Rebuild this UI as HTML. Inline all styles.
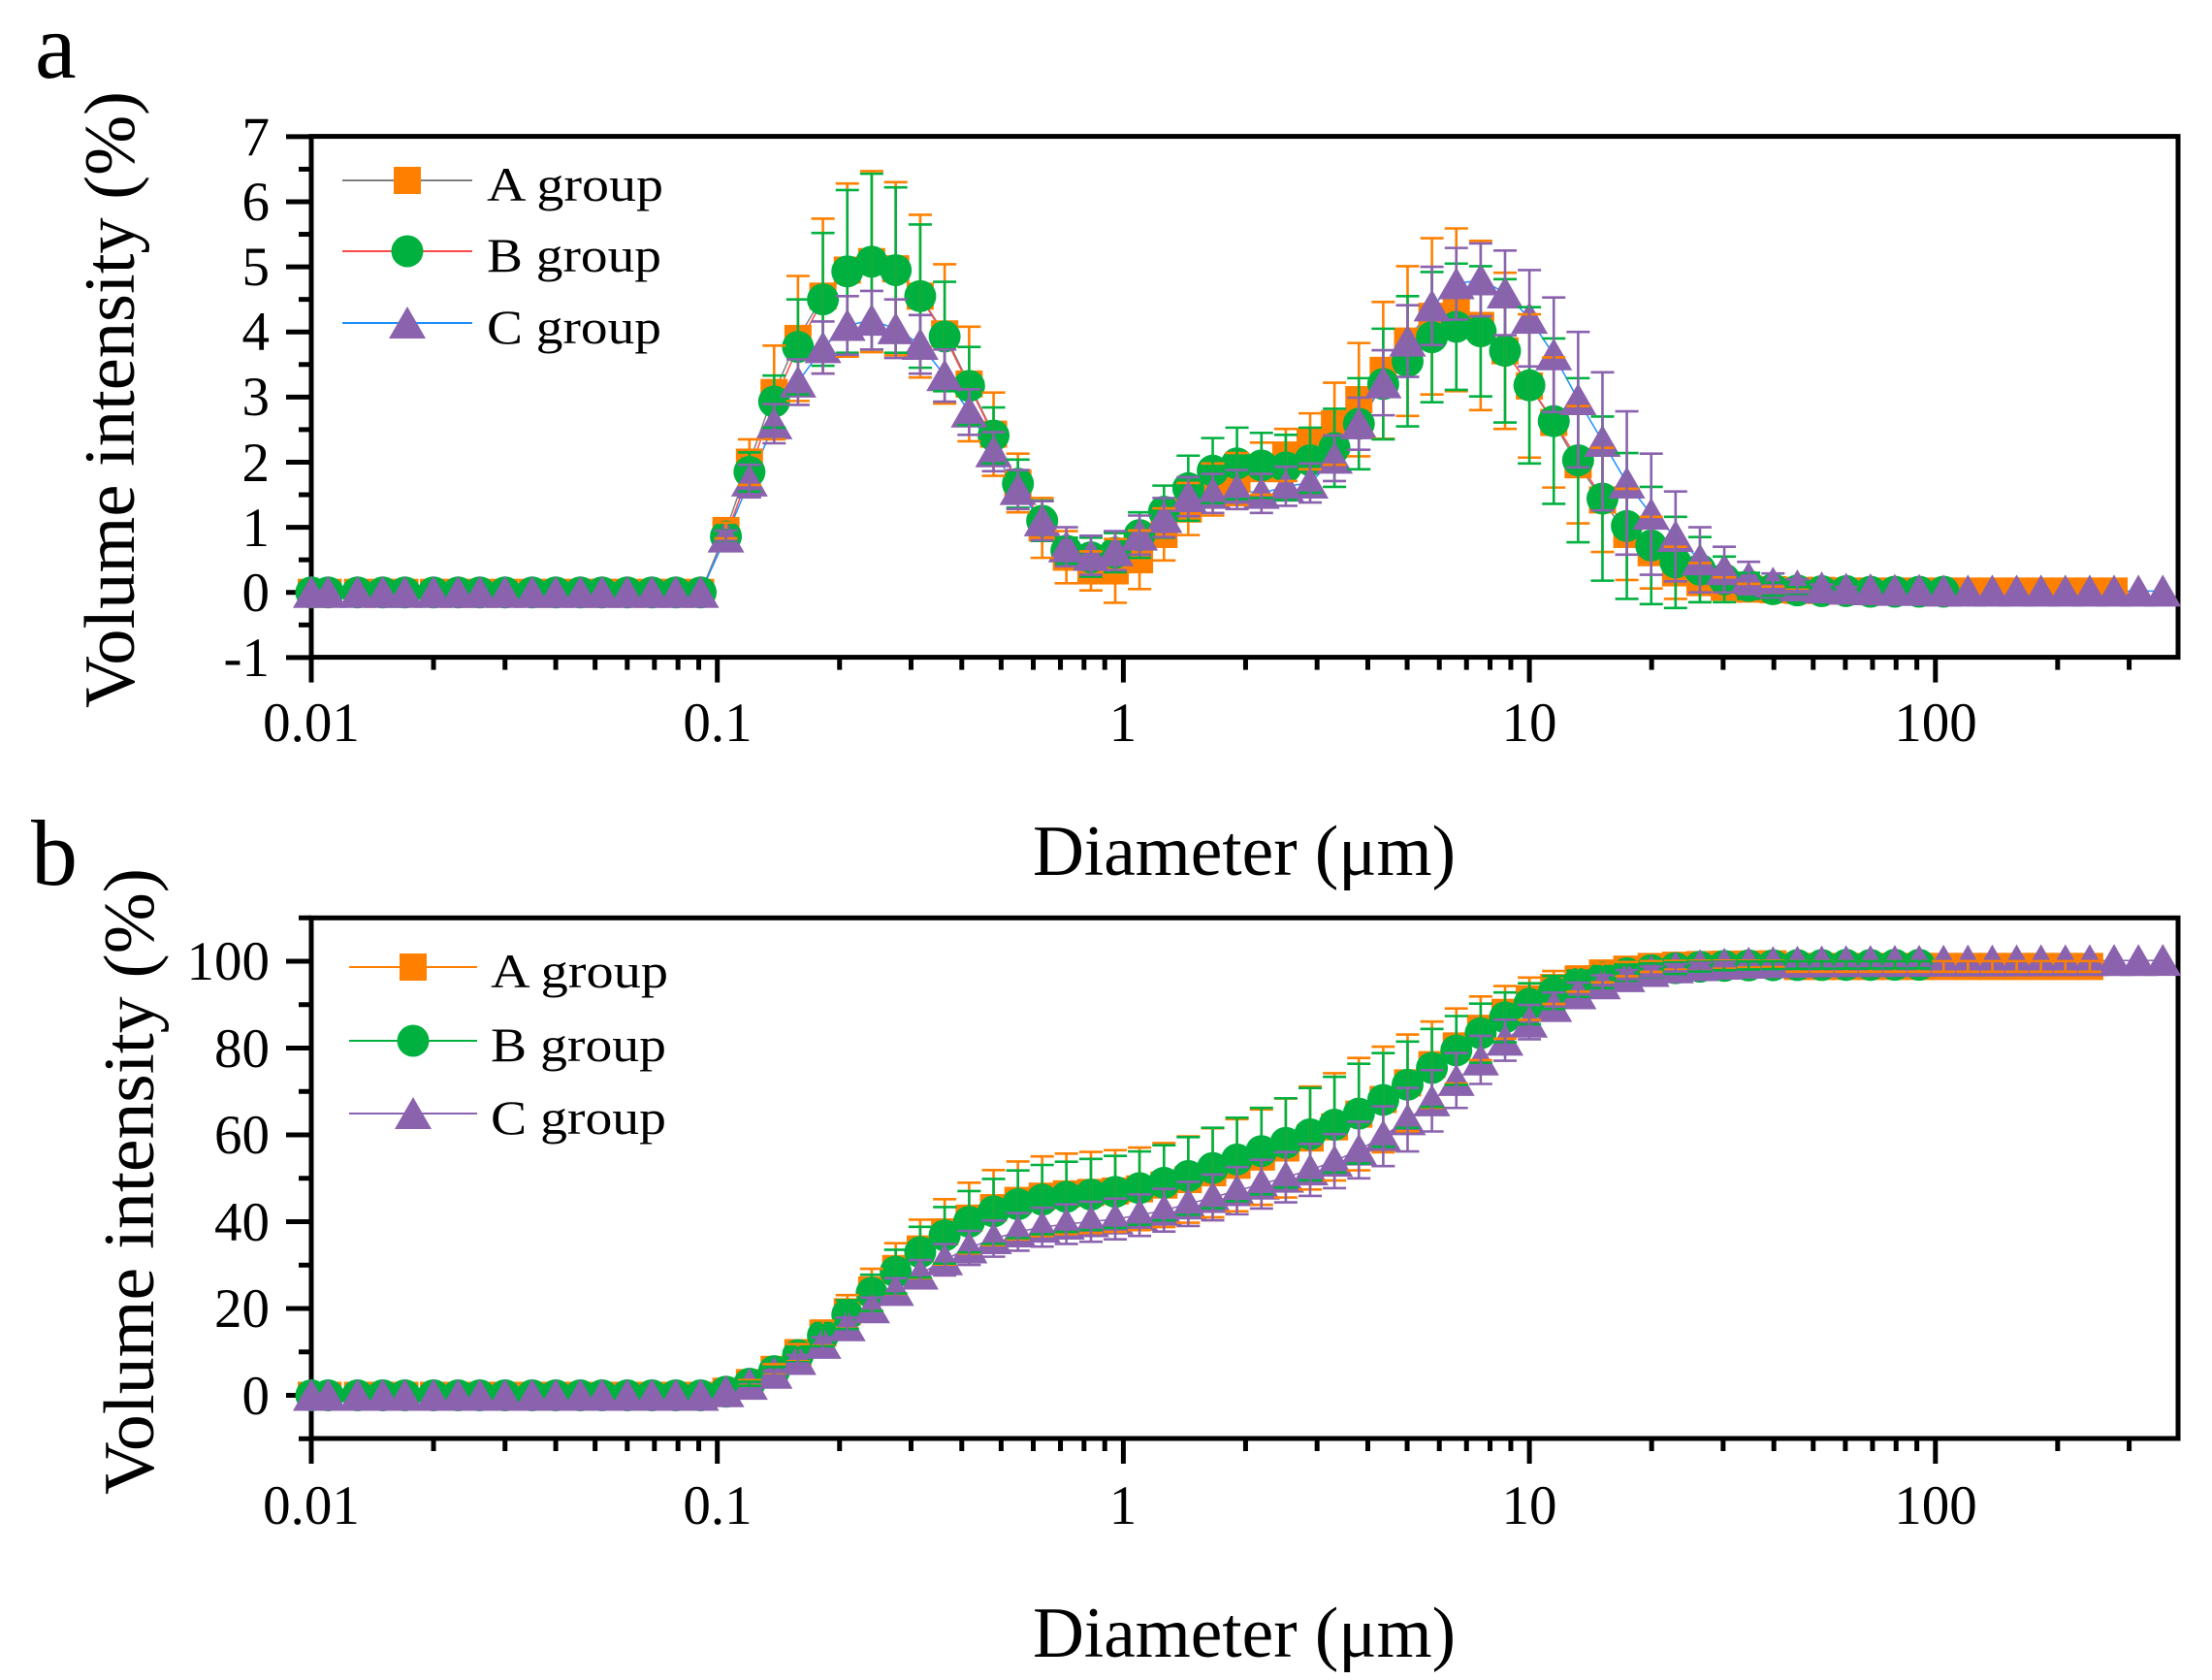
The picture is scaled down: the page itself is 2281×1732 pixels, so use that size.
<!DOCTYPE html>
<html>
<head>
<meta charset="utf-8">
<style>
  html, body { margin: 0; padding: 0; background: #ffffff; }
  body { width: 2281px; height: 1732px; overflow: hidden; }
  svg { display: block; }
  text { font-family: "Liberation Serif", "DejaVu Serif", serif; fill: #000; }
</style>
</head>
<body>
<svg id="fig" xmlns="http://www.w3.org/2000/svg" width="2281" height="1732" viewBox="0 0 2281 1732">
  <rect x="0" y="0" width="2281" height="1732" fill="#ffffff"/>

  <!-- panel letters -->
  <text x="36" y="80" font-size="96">a</text>
  <text x="32" y="912" font-size="96">b</text>

  <!-- axis titles -->
  <text transform="translate(138,412) rotate(-90)" text-anchor="middle" font-size="74" textLength="636" lengthAdjust="spacingAndGlyphs">Volume intensity (%)</text>
  <text transform="translate(158,1218) rotate(-90)" text-anchor="middle" font-size="74" textLength="646" lengthAdjust="spacingAndGlyphs">Volume intensity (%)</text>
  <text x="1283" y="902" text-anchor="middle" font-size="74" textLength="436" lengthAdjust="spacingAndGlyphs">Diameter (μm)</text>
  <text x="1283" y="1708" text-anchor="middle" font-size="74" textLength="436" lengthAdjust="spacingAndGlyphs">Diameter (μm)</text>

  <!-- y tick labels panel a -->
  <g font-size="57" text-anchor="end">
    <text x="278" y="160">7</text>
    <text x="278" y="227">6</text>
    <text x="278" y="294">5</text>
    <text x="278" y="361">4</text>
    <text x="278" y="428">3</text>
    <text x="278" y="496">2</text>
    <text x="278" y="563">1</text>
    <text x="278" y="630">0</text>
    <text x="278" y="697">-1</text>
  </g>
  <!-- x tick labels panel a -->
  <g font-size="57" text-anchor="middle">
    <text x="321" y="764">0.01</text>
    <text x="740" y="764">0.1</text>
    <text x="1158" y="764">1</text>
    <text x="1577" y="764">10</text>
    <text x="1996" y="764">100</text>
  </g>

  <!-- y tick labels panel b -->
  <g font-size="57" text-anchor="end">
    <text x="278" y="1010">100</text>
    <text x="278" y="1100">80</text>
    <text x="278" y="1189">60</text>
    <text x="278" y="1279">40</text>
    <text x="278" y="1368">20</text>
    <text x="278" y="1458">0</text>
  </g>
  <!-- x tick labels panel b -->
  <g font-size="57" text-anchor="middle">
    <text x="321" y="1571">0.01</text>
    <text x="740" y="1571">0.1</text>
    <text x="1158" y="1571">1</text>
    <text x="1577" y="1571">10</text>
    <text x="1996" y="1571">100</text>
  </g>

  <g id="axes"></g>
  <g id="dataA"></g>
  <g id="dataB"></g>

  <!-- legend panel a -->
  <g id="legA">
    <line x1="353" y1="186" x2="487" y2="186" stroke="#808080" stroke-width="2"/>
    <rect x="406" y="172" width="28" height="28" fill="#FF8000"/>
    <line x1="353" y1="259" x2="487" y2="259" stroke="#FF4848" stroke-width="2"/>
    <circle cx="420" cy="259" r="16.5" fill="#00B140"/>
    <line x1="353" y1="333" x2="487" y2="333" stroke="#1E8FFF" stroke-width="2"/>
    <polygon points="420,316 401,349 439,349" fill="#8A62AE"/>
    <g font-size="50">
      <text x="502" y="207" textLength="182" lengthAdjust="spacingAndGlyphs">A group</text>
      <text x="502" y="280" textLength="180" lengthAdjust="spacingAndGlyphs">B group</text>
      <text x="502" y="354" textLength="180" lengthAdjust="spacingAndGlyphs">C group</text>
    </g>
  </g>
  <!-- legend panel b -->
  <g id="legB">
    <line x1="360" y1="997" x2="492" y2="997" stroke="#FF8000" stroke-width="2"/>
    <rect x="412" y="983" width="28" height="28" fill="#FF8000"/>
    <line x1="360" y1="1073" x2="492" y2="1073" stroke="#00B140" stroke-width="2"/>
    <circle cx="426" cy="1073" r="16.5" fill="#00B140"/>
    <line x1="360" y1="1148" x2="492" y2="1148" stroke="#8A62AE" stroke-width="2"/>
    <polygon points="426,1131 407,1164 445,1164" fill="#8A62AE"/>
    <g font-size="50">
      <text x="506" y="1018" textLength="183" lengthAdjust="spacingAndGlyphs">A group</text>
      <text x="506" y="1094" textLength="181" lengthAdjust="spacingAndGlyphs">B group</text>
      <text x="506" y="1169" textLength="181" lengthAdjust="spacingAndGlyphs">C group</text>
    </g>
  </g>
</svg>

<script>
(function(){
  var NS = "http://www.w3.org/2000/svg";
  function el(parent, tag, attrs){
    var e = document.createElementNS(NS, tag);
    for (var k in attrs) e.setAttribute(k, attrs[k]);
    parent.appendChild(e);
    return e;
  }
  var X0 = 321, DEC = 418.7, XR = 2246;
  function px(x){ return X0 + DEC*(Math.log10(x)+2); }

  var PA = {top:140.6, bot:677.6, y0:610.7, k:67.12};
  var PB = {top:946.3, bot:1483, y0:1438.5, k:4.475};
  function pyA(v){ return PA.y0 - PA.k*v; }
  function pyB(v){ return PB.y0 - PB.k*v; }

  var ax = document.getElementById('axes');
  function frame(P, yticksMajor, yticksMinor, py){
    el(ax,'rect',{x:X0,y:P.top,width:XR-X0,height:P.bot-P.top,fill:'none',stroke:'#000','stroke-width':5});
    yticksMajor.forEach(function(v){
      var y = py(v);
      el(ax,'line',{x1:X0-26,y1:y,x2:X0,y2:y,stroke:'#000','stroke-width':5});
    });
    yticksMinor.forEach(function(v){
      var y = py(v);
      el(ax,'line',{x1:X0-13,y1:y,x2:X0,y2:y,stroke:'#000','stroke-width':5});
    });
    for (var d=-2; d<=2; d++){
      var xm = X0 + DEC*(d+2);
      el(ax,'line',{x1:xm,y1:P.bot,x2:xm,y2:P.bot+26,stroke:'#000','stroke-width':5});
      for (var m=2; m<=9; m++){
        var xx = xm + DEC*Math.log10(m);
        if (xx > XR+1) break;
        el(ax,'line',{x1:xx,y1:P.bot,x2:xx,y2:P.bot+13,stroke:'#000','stroke-width':5});
      }
    }
  }
  frame(PA,[-1,0,1,2,3,4,5,6,7],[-0.5,0.5,1.5,2.5,3.5,4.5,5.5,6.5],pyA);
  frame(PB,[0,20,40,60,80,100],[-10,10,30,50,70,90,110],pyB);

  var XS=[0.010,0.011,0.013,0.015,0.017,0.020,0.023,0.026,0.030,0.035,0.040,0.046,0.052,0.060,0.069,0.079,0.091,
    0.105,0.120,0.138,0.158,0.182,0.209,0.240,0.275,0.316,0.363,0.417,0.479,0.550,0.631,0.724,0.832,0.955,1.096,
    1.259,1.445,1.660,1.905,2.188,2.512,2.884,3.311,3.802,4.365,5.012,5.754,6.607,7.586,8.710,10.000,11.482,13.183,
    15.136,17.378,19.953,22.909,26.303,30.200,34.674,39.811,45.709,52.481,60.256,69.183,79.433,91.201,104.713,
    120.226,138.038,158.489,181.970,208.930,239.883,275.423,316.228,363.078];
  function z(n){ var a=[]; for(var i=0;i<n;i++) a.push(0); return a; }

  var A = z(17).concat(
    [0.95,2.0,3.07,3.9,4.55,4.95,5.08,4.97,4.55,3.97,3.2,2.43,1.68,0.99,0.54,0.33,0.33,0.5],
    [0.89,1.28,1.58,1.74,1.9,2.11,2.32,2.59,2.96,3.41,3.86,4.24,4.34,4.1,3.71,3.17,2.61,1.96,1.42,0.89,0.61,0.3,0.15],
    [0.08,0.05,0.04,0.03,0.03,0.02,0.02,0.02,0.02,0.02,0.02,0.02,0.02,0.02,0.02,0.02,0.02]);
  var B = z(17).concat(
    [0.86,1.85,2.93,3.77,4.5,4.93,5.08,4.95,4.55,3.93,3.17,2.41,1.67,1.1,0.64,0.54,0.61,0.88],
    [1.24,1.6,1.87,1.98,1.95,1.92,2.03,2.22,2.59,3.2,3.55,3.92,4.08,4.01,3.71,3.18,2.63,2.03,1.44,1.02,0.72,0.46,0.35],
    [0.2,0.1,0.05,0.03,0.02,0.02,0.01,0.01,0.01,0.01]);
  var C = z(17).concat(
    [0.85,1.71,2.59,3.23,3.76,4.1,4.18,4.05,3.81,3.33,2.77,2.16,1.58,1.1,0.7,0.57,0.64,0.88],
    [1.15,1.47,1.52,1.58,1.52,1.63,1.68,2.06,2.59,3.22,3.86,4.4,4.74,4.8,4.6,4.21,3.65,2.96,2.32,1.68,1.2,0.86,0.5],
    [0.35,0.22,0.14,0.1,0.07,0.05,0.04,0.03,0.03,0.02,0.02,0.02,0.02,0.02,0.02,0.02,0.02,0.02,0.02]);

  var eA = z(17).concat(
    [0.12,0.35,0.72,0.96,1.19,1.33,1.39,1.33,1.25,1.07,0.88,0.64,0.45,0.46,0.4,0.3,0.49,0.45],
    [0.4,0.4,0.4,0.4,0.4,0.4,0.43,0.63,0.87,1.05,1.15,1.2,1.25,1.3,1.2,1.1,1.0,0.9,0.8,0.7,0.55,0.4,0.3],
    [0.15,0.08,0.05,0.03,0.02,0.02,0,0,0,0,0,0,0,0,0,0,0]);
  var eB = z(17).concat(
    [0.1,0.3,0.4,0.73,1.02,1.25,1.35,1.27,1.1,0.84,0.6,0.43,0.37,0.31,0.2,0.3,0.3,0.35],
    [0.4,0.5,0.5,0.55,0.5,0.5,0.5,0.6,0.7,0.85,1.0,1.0,0.97,1.0,1.1,1.2,1.27,1.26,1.26,1.12,0.9,0.7,0.5],
    [0.35,0.2,0.1,0.05,0.02,0.02,0,0,0,0]);
  var eC = z(17).concat(
    [0.1,0.25,0.3,0.35,0.4,0.45,0.45,0.45,0.45,0.4,0.35,0.3,0.3,0.3,0.3,0.3,0.3,0.3],
    [0.3,0.3,0.3,0.3,0.3,0.3,0.3,0.35,0.4,0.5,0.55,0.6,0.55,0.56,0.65,0.74,0.88,1.04,1.06,1.1,0.93,0.69,0.5],
    [0.35,0.25,0.15,0.1,0.05,0.03,0,0,0,0,0,0,0,0,0,0,0,0,0]);

  var OR='#FF8000', GR='#00B140', PU='#8A62AE';

  function marker(g, type, x, y, col){
    if (type==='sq') el(g,'rect',{x:x-14,y:y-14,width:28,height:28,fill:col});
    else if (type==='ci') el(g,'circle',{cx:x,cy:y,r:16.5,fill:col});
    else el(g,'polygon',{points:(x)+','+(y-17)+' '+(x-19)+','+(y+16)+' '+(x+19)+','+(y+16),fill:col});
  }
  function line(g, vals, py, col, w){
    var pts=[];
    for (var i=0;i<vals.length;i++) pts.push(px(XS[i]).toFixed(1)+','+py(vals[i]).toFixed(1));
    el(g,'polyline',{points:pts.join(' '),fill:'none',stroke:col,'stroke-width':w});
  }
  function bars(g, vals, errs, py, col){
    for (var i=0;i<vals.length;i++){
      var x=px(XS[i]);
      var y1=py(vals[i]+errs[i]), y2=py(vals[i]-errs[i]);
      if (Math.abs(y2-y1) < 4) continue;
      el(g,'line',{x1:x,y1:y1,x2:x,y2:y2,stroke:col,'stroke-width':2.6});
      el(g,'line',{x1:x-12,y1:y1,x2:x+12,y2:y1,stroke:col,'stroke-width':2.6});
      el(g,'line',{x1:x-12,y1:y2,x2:x+12,y2:y2,stroke:col,'stroke-width':2.6});
    }
  }

  var ga = document.getElementById('dataA');
  line(ga, A, pyA, '#808080', 1.5);
  line(ga, B, pyA, '#FF4848', 1.5);
  line(ga, C, pyA, '#1E8FFF', 1.5);
  for (var i=0;i<A.length;i++) marker(ga,'sq',px(XS[i]),pyA(A[i]),OR);
  for (var i=0;i<B.length;i++) marker(ga,'ci',px(XS[i]),pyA(B[i]),GR);
  for (var i=0;i<C.length;i++) marker(ga,'tr',px(XS[i]),pyA(C[i]),PU);
  bars(ga, A, eA, pyA, OR);
  bars(ga, B, eB, pyA, GR);
  bars(ga, C, eC, pyA, PU);

  function cum(v, finalVal){
    var s=0, out=[], tot=0;
    for (var i=0;i<v.length;i++) tot+=v[i];
    for (var i=0;i<v.length;i++){ s+=v[i]; out.push(s/tot*finalVal); }
    return out;
  }
  var cA = cum(A, 99.7);
  for (var i=61;i<cA.length;i++) cA[i] = 98.8;
  var cB = cum(B, 99.2);
  var cC = cum(C, 100.2);
  cA = cA.slice(0,74);
  cB = cB.slice(0,67);

  function errb(c, E){
    var f = c<65 ? c/65 : Math.pow(Math.max(0,100-c)/35, 0.7);
    return E*f;
  }
  var ebA=[], ebB=[], ebC=[];
  for (var i=0;i<cA.length;i++) ebA.push(errb(cA[i],13));
  for (var i=0;i<cB.length;i++) ebB.push(errb(cB[i],11.5));
  for (var i=0;i<cC.length;i++) ebC.push(errb(cC[i],7.5));

  var gb = document.getElementById('dataB');
  line(gb, cA, pyB, OR, 1.5);
  line(gb, cB, pyB, GR, 1.5);
  line(gb, cC, pyB, PU, 1.5);
  for (var i=0;i<cA.length;i++) marker(gb,'sq',px(XS[i]),pyB(cA[i]),OR);
  for (var i=0;i<cB.length;i++) marker(gb,'ci',px(XS[i]),pyB(cB[i]),GR);
  for (var i=0;i<cC.length;i++) marker(gb,'tr',px(XS[i]),pyB(cC[i]),PU);
  bars(gb, cA, ebA, pyB, OR);
  bars(gb, cB, ebB, pyB, GR);
  bars(gb, cC, ebC, pyB, PU);
})();
</script>
</body>
</html>
